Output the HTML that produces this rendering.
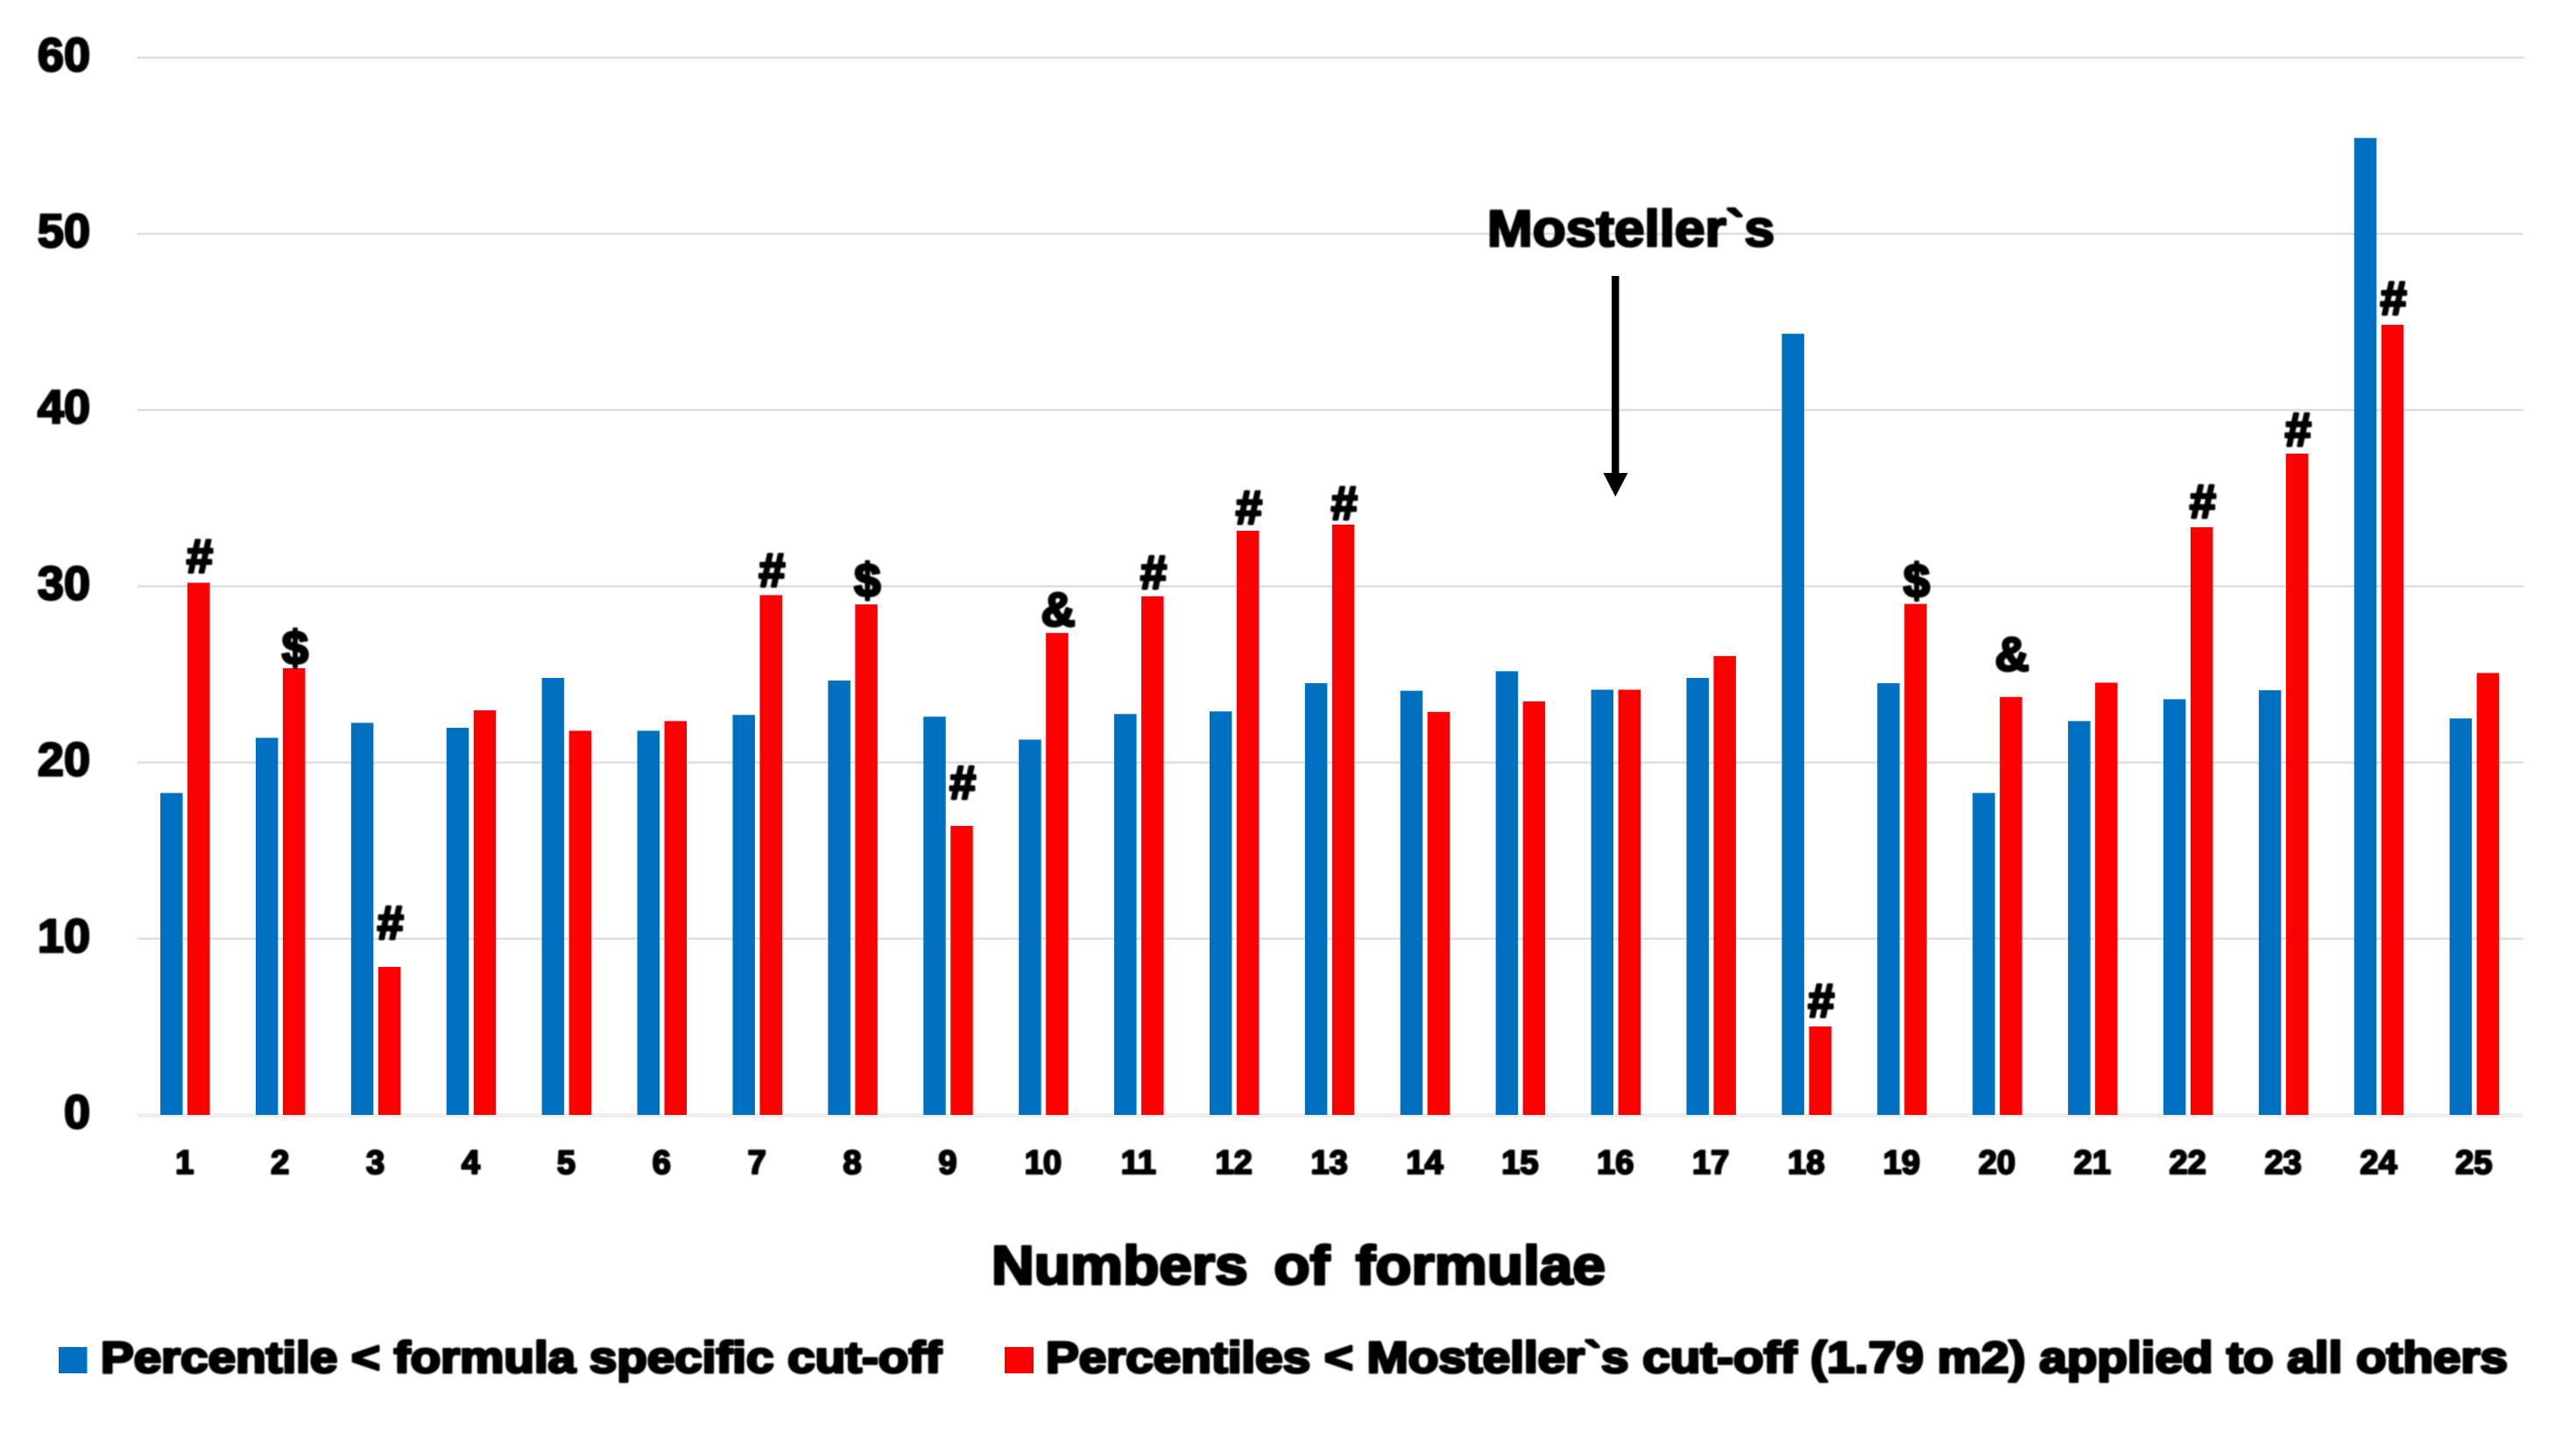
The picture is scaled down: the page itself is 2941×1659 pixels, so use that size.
<!DOCTYPE html>
<html lang="en">
<head>
<meta charset="utf-8">
<title>Percentiles by formula</title>
<style>
  html, body { margin: 0; padding: 0; background: #ffffff; }
  body { width: 2941px; height: 1659px; overflow: hidden; }
  svg { display: block; }
  text { font-family: "Liberation Sans", Arial, sans-serif; font-weight: bold; fill: #000; stroke: #000; stroke-linejoin: round; filter: url(#soften); }
</style>
</head>
<body>
<svg id="chart" xmlns="http://www.w3.org/2000/svg" width="2941" height="1659" viewBox="0 0 2941 1659">
  <defs>
    <filter id="soften" x="-5%" y="-20%" width="110%" height="140%">
      <feGaussianBlur stdDeviation="0.7"/>
    </filter>
  </defs>
  <rect x="0" y="0" width="2941" height="1659" fill="#ffffff"/>
  <g id="grid"></g>
  <g id="yticks"></g>
  <g id="bars"></g>
  <g id="marks"></g>
  <g id="xticks"></g>

  <text x="1698" y="281" font-size="58" stroke-width="2.6" textLength="328" lengthAdjust="spacingAndGlyphs">Mosteller`s</text>
  <g>
    <rect x="1840" y="315" width="8.5" height="228" fill="#000"/>
    <polygon points="1830.5,540 1858.5,540 1844.3,567" fill="#000"/>
  </g>

  <text x="1132" y="1466" font-size="62" stroke-width="3" word-spacing="10" textLength="701" lengthAdjust="spacingAndGlyphs">Numbers of formulae</text>

  <g>
    <g>
      <rect x="67" y="1538" width="32.5" height="30" fill="#0070C0"/>
      <text x="115" y="1567" font-size="50" stroke-width="3" textLength="960" lengthAdjust="spacingAndGlyphs">Percentile &lt; formula specific cut-off</text>
    </g>
    <g>
      <rect x="1147" y="1538" width="33" height="30" fill="#FF0000"/>
      <text x="1194" y="1567" font-size="50" stroke-width="3" textLength="1669" lengthAdjust="spacingAndGlyphs">Percentiles &lt; Mosteller`s cut-off (1.79 m2) applied to all others</text>
    </g>
  </g>
</svg>

<script>
const categories = ["1","2","3","4","5","6","7","8","9","10","11","12","13","14","15","16","17","18","19","20","21","22","23","24","25"];
const formulaSpecific = [18.27,21.4,22.25,21.97,24.8,21.8,22.7,24.65,22.6,21.3,22.75,22.9,24.5,24.07,25.18,24.13,24.8,44.33,24.5,18.27,22.35,23.59,24.1,55.44,22.5];
const mostellerCutoff = [30.2,25.35,8.4,22.96,21.8,22.35,29.5,28.97,16.4,27.35,29.43,33.15,33.5,22.87,23.47,24.13,26.04,5.02,29.0,23.72,24.53,33.35,37.53,44.84,25.08];
const annotationSymbols = ["#","$","#","","","","#","$","#","&","#","#","#","","","","","#","$","&","","#","#","#",""];
const annotationLift = [0.55,0.2,1.55,0,0,0,0.45,0.4,1.5,0.35,0.4,0.35,0.25,0,0,0,0,0.5,0.35,1.45,0,0.5,0.4,0.55,0];
const yTickValues = [0,10,20,30,40,50,60];

const SVG_NS = "http://www.w3.org/2000/svg";
const yZero = 1273;
const pxPerUnit = 20.12;
const firstCenter = 211.3;
const categoryStep = 108.9;
const barWidth = 25.5;
const barGap = 5.5;
const gridLeft = 157;
const gridRight = 2881;

function yScale(v) { return yZero - v * pxPerUnit; }
function xCenter(i) { return firstCenter + i * categoryStep; }

const gridGroup = document.getElementById("grid");
const yTickGroup = document.getElementById("yticks");
const barGroup = document.getElementById("bars");
const markGroup = document.getElementById("marks");
const xTickGroup = document.getElementById("xticks");

yTickValues.forEach(function (v) {
  const y = yScale(v);
  const line = document.createElementNS(SVG_NS, "rect");
  
  
  line.setAttribute("x", gridLeft);
  line.setAttribute("width", gridRight - gridLeft);
  line.setAttribute("y", v === 0 ? y - 2 : y - 1.25);
  line.setAttribute("height", v === 0 ? 5 : 2.5);
  line.setAttribute("fill", v === 0 ? "#efefef" : "#dedede");
  gridGroup.appendChild(line);

  const label = document.createElementNS(SVG_NS, "text");
  
  
  label.setAttribute("x", 103);
  label.setAttribute("y", y + 15);
  label.setAttribute("text-anchor", "end");
  label.setAttribute("font-size", 54);
  label.setAttribute("stroke-width", 2.5);
  label.textContent = String(v);
  yTickGroup.appendChild(label);
});

categories.forEach(function (name, i) {
  const c = xCenter(i);

  const blue = document.createElementNS(SVG_NS, "rect");
  
  
  blue.setAttribute("x", c - barGap / 2 - barWidth);
  blue.setAttribute("width", barWidth);
  blue.setAttribute("y", yScale(formulaSpecific[i]));
  blue.setAttribute("height", yZero - yScale(formulaSpecific[i]));
  blue.setAttribute("fill", "#0070C0");
  barGroup.appendChild(blue);

  const red = document.createElementNS(SVG_NS, "rect");
  
  
  red.setAttribute("x", c + barGap / 2);
  red.setAttribute("width", barWidth);
  red.setAttribute("y", yScale(mostellerCutoff[i]));
  red.setAttribute("height", yZero - yScale(mostellerCutoff[i]));
  red.setAttribute("fill", "#FF0000");
  barGroup.appendChild(red);

  if (annotationSymbols[i]) {
    const mark = document.createElementNS(SVG_NS, "text");
    
    
    mark.setAttribute("x", c + barGap / 2 + barWidth / 2 + 1.2);
    mark.setAttribute("y", yScale(mostellerCutoff[i] + annotationLift[i]) - 1);
    mark.setAttribute("text-anchor", "middle");
    mark.setAttribute("font-size", 54);
    mark.setAttribute("stroke-width", 3);
    mark.textContent = annotationSymbols[i];
    markGroup.appendChild(mark);
  }

  const tick = document.createElementNS(SVG_NS, "text");
  
  
  tick.setAttribute("x", c - 0.5);
  tick.setAttribute("y", 1340);
  tick.setAttribute("text-anchor", "middle");
  tick.setAttribute("font-size", 38);
  tick.setAttribute("stroke-width", 2.2);
  tick.textContent = name;
  xTickGroup.appendChild(tick);
});
</script>
</body>
</html>
